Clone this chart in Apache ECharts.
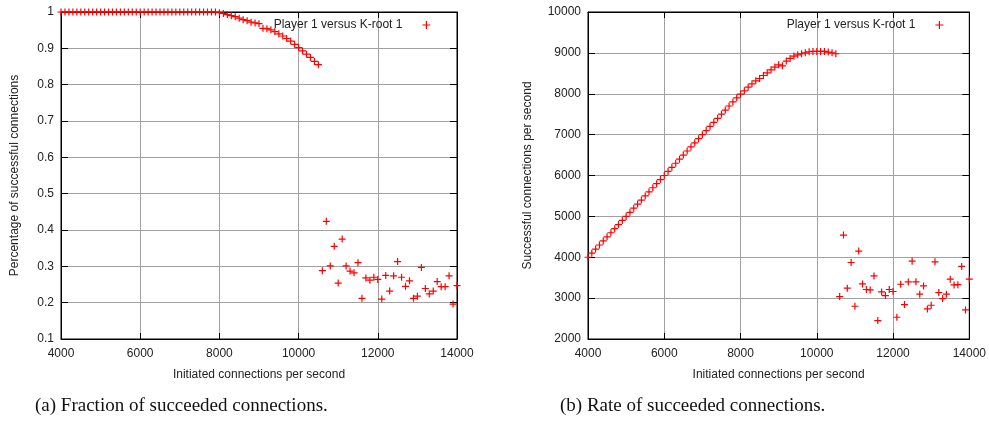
<!DOCTYPE html>
<html>
<head>
<meta charset="utf-8">
<script src="https://cdn.jsdelivr.net/npm/echarts@6/dist/echarts.min.js"></script>
<style>
html,body{margin:0;padding:0;background:#fff;}
#chart{width:989px;height:431px;}
</style>
</head>
<body>
<div id="chart"></div>
<script>
// Initiated connections per second (x values, 4000..14000)
var initiated = [
4000,4100,4200,4300,4400,4500,4600,4700,4800,4900,
5000,5100,5200,5300,5400,5500,5600,5700,5800,5900,
6000,6100,6200,6300,6400,6500,6600,6700,6800,6900,
7000,7100,7200,7300,7400,7500,7600,7700,7800,7900,
8000,8100,8200,8300,8400,8500,8600,8700,8800,8900,
9000,9100,9200,9300,9400,9500,9600,9700,9800,9900,
10000,10100,10200,10300,10400,10500,10600,10700,10800,10900,
11000,11100,11200,11300,11400,11500,11600,11700,11800,11900,
12000,12100,12200,12300,12400,12500,12600,12700,12800,12900,
13000,13100,13200,13300,13400,13500,13600,13700,13800,13900,
14000];

// (a) Fraction of successful connections
var fraction = [
1,1,1,1,1,1,1,1,1,1,
1,1,1,1,1,1,1,1,1,1,
1,1,1,1,1,1,1,1,1,1,
1,1,1,1,1,1,1,1,1,1,
0.998,0.996,0.993,0.990,0.987,0.983,0.979,0.976,0.972,0.970,
0.968,0.955,0.954,0.951,0.946,0.940,0.934,0.927,0.920,0.911,
0.902,0.893,0.884,0.875,0.864,0.855,0.288,0.424,0.301,0.355,
0.254,0.375,0.301,0.287,0.282,0.310,0.212,0.268,0.262,0.270,
0.264,0.210,0.275,0.232,0.274,0.313,0.270,0.245,0.260,0.212,
0.218,0.297,0.239,0.224,0.232,0.258,0.244,0.244,0.274,0.196,
0.247];

// (b) Successful connections per second
var successRate = [
4000,4100,4200,4300,4400,4500,4600,4700,4800,4900,
5000,5100,5200,5300,5400,5500,5600,5700,5800,5900,
6000,6100,6200,6300,6400,6500,6600,6700,6800,6900,
7000,7100,7200,7300,7400,7500,7600,7700,7800,7900,
7990,8071,8162,8243,8316,8373,8446,8512,8586,8652,
8708,8684,8799,8863,8922,8953,8978,9002,9027,9035,
9035,9035,9035,9019,9002,8978,3039,4542,3243,3872,
2801,4150,3348,3211,3200,3544,2451,3152,3063,3211,
3162,2532,3340,2843,3397,3904,3400,3096,3299,2735,
2826,3887,3137,2990,3096,3463,3324,3330,3775,2711,
3463];

var seriesName = 'Player 1 versus K-root 1';
var xAxisName = 'Initiated connections per second';
var yAxisNames = ['Percentage of successful connections', 'Successful connections per second'];
var captions = ['(a) Fraction of succeeded connections.', '(b) Rate of succeeded connections.'];

var plusPath = 'path://M0,5L10,5M5,0L5,10';
var red = '#ff0000';
var font = 'Liberation Sans, Arial, sans-serif';
var gridColor = '#a0a0a0';

function pairs(ys){ return initiated.map(function(x,i){ return [x, ys[i]]; }); }

var grids = [
  {left:61, top:12, width:396, height:327, show:true, borderColor:'#000', borderWidth:1, backgroundColor:'transparent'},
  {left:588, top:12, width:382, height:327, show:true, borderColor:'#000', borderWidth:1, backgroundColor:'transparent'}
];

function mainX(gi){
  return {
    gridIndex:gi, type:'value', min:4000, max:14000, interval:2000, position:'bottom',
    name:xAxisName, nameLocation:'middle', nameGap:30,
    nameTextStyle:{fontFamily:font, fontSize:12, color:'#222'},
    axisLine:{show:true, lineStyle:{color:'#000', width:1}},
    axisTick:{show:true, inside:true, length:6, lineStyle:{color:'#000'}},
    axisLabel:{fontFamily:font, fontSize:12, color:'#222', margin:9,
               formatter:function(v){ return String(Math.round(v)); }},
    splitLine:{show:true, showMinLine:false, showMaxLine:false, lineStyle:{color:gridColor, width:1}}
  };
}
function mirrorX(gi){
  return {
    gridIndex:gi, type:'value', min:4000, max:14000, interval:2000, position:'top',
    axisLine:{show:true, lineStyle:{color:'#000'}},
    axisTick:{show:true, inside:true, length:6, lineStyle:{color:'#000'}},
    axisLabel:{show:false}, splitLine:{show:false}
  };
}
function mainY(gi, min, max, interval, gap, fmt){
  return {
    gridIndex:gi, type:'value', min:min, max:max, interval:interval, position:'left',
    name:yAxisNames[gi], nameLocation:'middle', nameGap:gap, nameRotate:90,
    nameTextStyle:{fontFamily:font, fontSize:12, color:'#222'},
    axisLine:{show:true, lineStyle:{color:'#000', width:1}},
    axisTick:{show:true, inside:true, length:7, lineStyle:{color:'#000'}},
    axisLabel:{fontFamily:font, fontSize:12, color:'#222', margin:7, formatter:fmt},
    splitLine:{show:true, showMinLine:false, showMaxLine:false, lineStyle:{color:gridColor, width:1}}
  };
}
function mirrorY(gi, min, max, interval){
  return {
    gridIndex:gi, type:'value', min:min, max:max, interval:interval, position:'right',
    axisLine:{show:true, lineStyle:{color:'#000'}},
    axisTick:{show:true, inside:true, length:7, lineStyle:{color:'#000'}},
    axisLabel:{show:false}, splitLine:{show:false}
  };
}

var itemStyle = {color:'rgba(0,0,0,0)', borderColor:red, borderWidth:1.2, opacity:1};

function legendAt(right){
  return {
    data:[{name:seriesName, icon:plusPath, itemStyle:itemStyle}],
    right:right, top:19, padding:0, itemWidth:8, itemHeight:8, align:'right',
    selectedMode:false,
    textStyle:{fontFamily:font, fontSize:12, color:'#222', padding:[0,15,0,0]}
  };
}

var captionFont = '19px "Liberation Serif", "DejaVu Serif", serif';

var option = {
  animation:false,
  backgroundColor:'#fff',
  grid:grids,
  xAxis:[mainX(0), mainX(1), mirrorX(0), mirrorX(1)],
  yAxis:[
    mainY(0, 0.1, 1, 0.1, 40, function(v){ return Math.abs(v-1)<1e-9 ? '1' : v.toFixed(1); }),
    mainY(1, 2000, 10000, 1000, 54, function(v){ return String(Math.round(v)); }),
    mirrorY(0, 0.1, 1, 0.1),
    mirrorY(1, 2000, 10000, 1000)
  ],
  legend:[legendAt(558), legendAt(45)],
  series:[
    {name:seriesName, type:'scatter', xAxisIndex:0, yAxisIndex:0, data:pairs(fraction),
     symbol:plusPath, symbolSize:7, itemStyle:itemStyle, emphasis:{disabled:true}, clip:false, z:5},
    {name:seriesName, type:'scatter', xAxisIndex:1, yAxisIndex:1, data:pairs(successRate),
     symbol:plusPath, symbolSize:7, itemStyle:itemStyle, emphasis:{disabled:true}, clip:false, z:5}
  ],
  graphic:[
    {type:'text', left:35, top:397, style:{text:captions[0], font:captionFont, fill:'#111'}},
    {type:'text', left:560, top:397, style:{text:captions[1], font:captionFont, fill:'#111'}}
  ]
};

var chart = echarts.init(document.getElementById('chart'), null, {renderer:'canvas'});
chart.setOption(option);
</script>
</body>
</html>
